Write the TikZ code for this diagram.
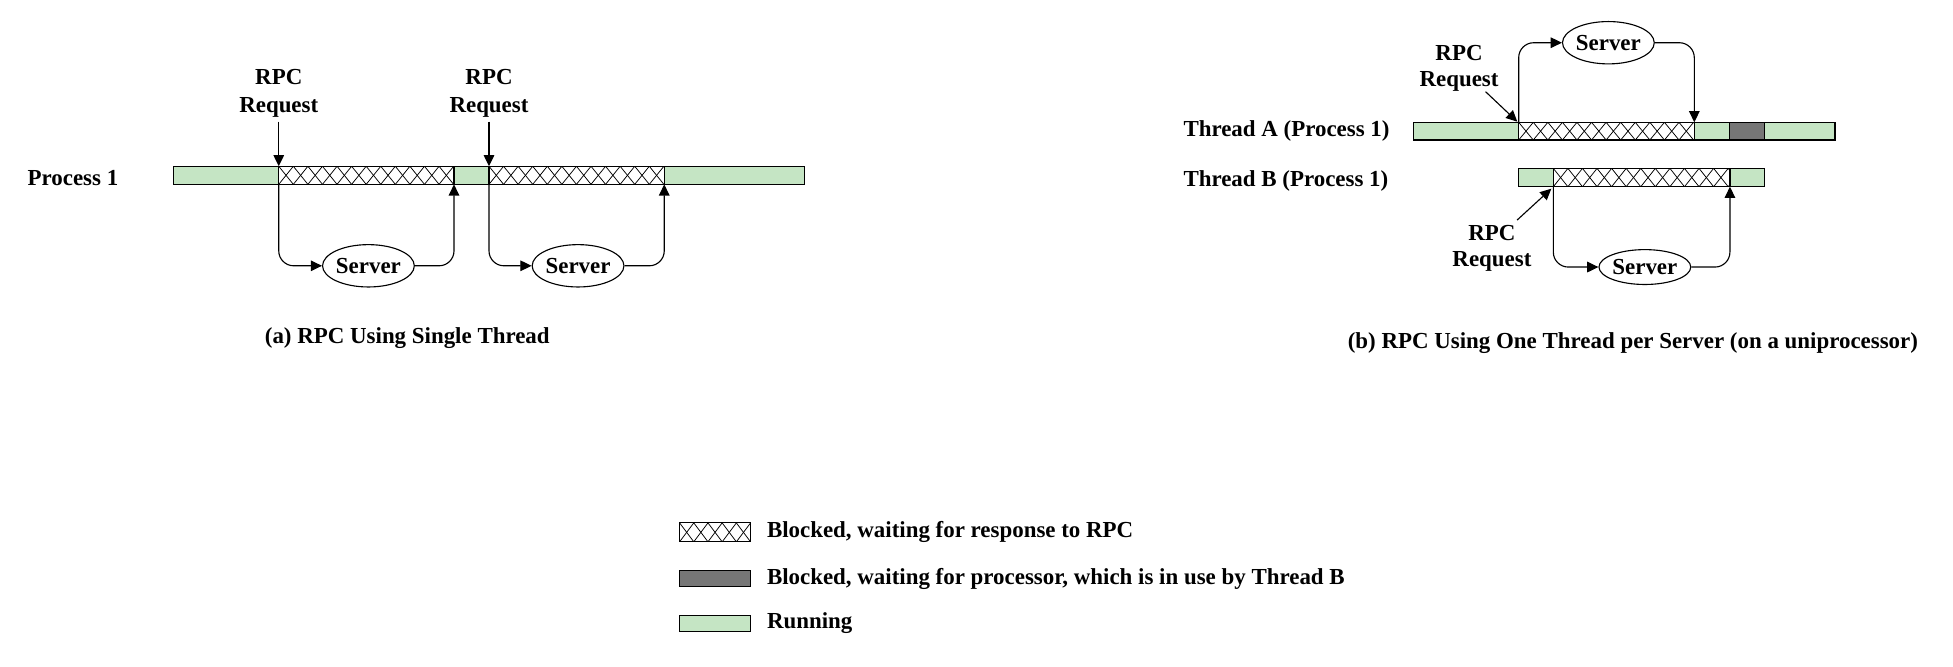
\documentclass[tikz,border=0pt]{standalone}
\usepackage{fontspec}
\setmainfont{Liberation Serif}
\usetikzlibrary{arrows.meta,shapes.geometric}
\definecolor{runc}{RGB}{197,229,196}
\definecolor{waitc}{RGB}{118,118,118}
\newcommand\hatchseg[5]{%
  \begin{scope}
    \clip (#1,#3) rectangle (#2,#4);
    \fill[white] (#1,#3) rectangle (#2,#4);
    \pgfmathsetmacro\hN{int(ceil((#2-#1)/#5))}
    \foreach \k in {0,...,\hN}{
      \draw[hatchline] ({#1+\k*#5},#3) -- ({#1+(\k+1)*#5},#4);
      \draw[hatchline] ({#1+\k*#5},#4) -- ({#1+(\k+1)*#5},#3);
    }
  \end{scope}
  \draw[barline] (#1,#3) rectangle (#2,#4);
}
\begin{document}
\begin{tikzpicture}[x=1pt,y=-1pt,
  font=\fontsize{18.4}{23}\selectfont\bfseries,
  barline/.style={draw=black,line width=0.9pt},
  hatchline/.style={line width=0.6pt},
  arr/.style={line width=0.9pt,-{Triangle[length=9pt,width=8.5pt]}},
  conn/.style={arr,rounded corners=12pt},
  server/.style={draw,ellipse,line width=0.9pt,minimum width=67pt,minimum height=34pt,inner sep=0pt},
  reqL/.style={align=center,inner sep=3pt,font=\fontsize{18.4}{23}\selectfont\bfseries},
  reqR/.style={align=center,inner sep=3pt,font=\fontsize{18.4}{21}\selectfont\bfseries},
  lbl/.style={anchor=west,inner sep=0pt}]
\useasboundingbox (0,0) rectangle (1568,535.5);
\fill[white] (0,0) rectangle (1568,535.5);

% ---------- (a) single thread ----------
\fill[runc] (139,133.5) rectangle (646,148);
\hatchseg{223.8}{364.5}{133.5}{148}{11.7}
\hatchseg{392.6}{533.3}{133.5}{148}{11.7}
\draw[barline] (139,133.5) rectangle (646,148);
\node[lbl] (p1) at (22,143) {Process 1};

\node[reqL,anchor=south] (rq1) at (223.8,97.7) {RPC\\Request};
\coordinate (q1t) at (223.8,133.5);
\coordinate (q1b) at (223.8,148);
\coordinate (e1) at (364.5,148);
\node[server] (s1) at (295.8,213.4) {Server};
\draw[arr] (rq1.south) -- (q1t);
\draw[conn] (q1b) |- (s1.west);
\draw[conn] (s1.east) -| (e1);

\node[reqL,anchor=south] (rq2) at (392.6,97.7) {RPC\\Request};
\coordinate (q2t) at (392.6,133.5);
\coordinate (q2b) at (392.6,148);
\coordinate (e2) at (533.3,148);
\node[server] (s2) at (464.1,213.4) {Server};
\draw[arr] (rq2.south) -- (q2t);
\draw[conn] (q2b) |- (s2.west);
\draw[conn] (s2.east) -| (e2);

\node (capa) at (327,271.5) {(a) RPC Using Single Thread};

% ---------- (b) one thread per server ----------
\fill[runc] (1134.8,98.2) rectangle (1473.2,112.4);
\hatchseg{1219.3}{1360.3}{98.2}{112.4}{11.7}
\draw[barline,fill=waitc] (1388.7,98.2) rectangle (1416.5,112.4);
\draw[barline] (1134.8,98.2) rectangle (1473.2,112.4);

\fill[runc] (1219.3,135.2) rectangle (1416.5,149.9);
\hatchseg{1247.1}{1388.9}{135.2}{149.9}{11.7}
\draw[barline] (1219.3,135.2) rectangle (1416.5,149.9);

\node[lbl] (ta) at (950,105) {Thread A (Process 1)};
\node[lbl] (tb) at (950,145) {Thread B (Process 1)};

\node[server] (sA) at (1291.3,34.3) {Server};
\coordinate (qA) at (1219.3,98.2);
\coordinate (eA) at (1360.3,98.2);
\draw[conn] (qA) |- (sA.west);
\draw[conn] (sA.east) -| (eA);
\node[reqR] (rqA) at (1171.4,54.6) {RPC\\Request};
\coordinate (dA1) at (1192.7,73.6);
\coordinate (dA2) at (1218.2,97.7);
\draw[arr] (dA1) -- (dA2);

\node[server,minimum height=28pt] (sB) at (1320.6,214.4) {Server};
\coordinate (qB) at (1247.1,149.9);
\coordinate (eB) at (1388.9,149.9);
\draw[conn] (qB) |- (sB.west);
\draw[conn] (sB.east) -| (eB);
\node[reqR] (rqB) at (1197.8,199.6) {RPC\\Request};
\coordinate (dB1) at (1218,176.7);
\coordinate (dB2) at (1245.5,151.5);
\draw[arr] (dB1) -- (dB2);

\node (capb) at (1311,275.7) {(b) RPC Using One Thread per Server (on a uniprocessor)};

% ---------- legend ----------
\hatchseg{545.6}{602.8}{419.8}{435}{11.4}
\node[lbl] (l1) at (615.6,427) {Blocked, waiting for response to RPC};
\draw[barline,fill=waitc] (545.6,457.8) rectangle (602.8,471.2);
\node[lbl] (l2) at (615.6,464.5) {Blocked, waiting for processor, which is in use by Thread B};
\draw[barline,fill=runc] (545.6,494) rectangle (602.8,507.3);
\node[lbl] (l3) at (615.6,500.6) {Running};
\end{tikzpicture}
\end{document}
